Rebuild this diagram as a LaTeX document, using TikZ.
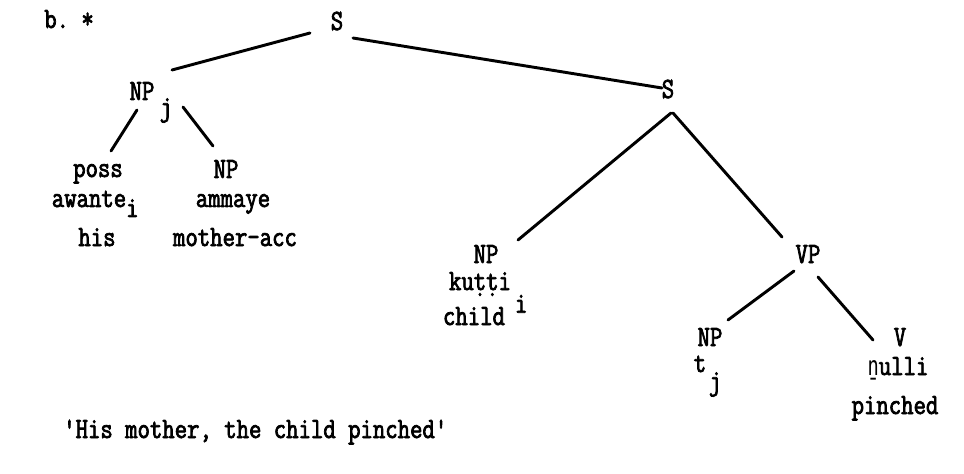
\documentclass[tikz,border=0pt]{standalone}
\usepackage{fontspec}
\newfontfamily\twfont{Latin Modern Mono}[FakeStretch=0.82,FakeBold=2.5]
\newfontfamily\dvmfont{DejaVu Sans Mono}[FakeStretch=0.7]
\begin{document}
\begin{tikzpicture}[x=0.75pt,y=-0.75pt,
  lbl/.style={font=\twfont\fontsize{22pt}{24pt}\selectfont, inner sep=0pt, anchor=base},
  edge/.style={line width=2.2pt, line cap=round}]
\useasboundingbox (0,0) rectangle (964,474);
\fill[white] (0,0) rectangle (964,474);
% labels
\node[lbl, anchor=base west] (ex) at (44,28) {b.\ *};
\node[lbl] (S) at (337,30) {S};
\node[lbl] (NPj) at (142,100) {NP\rlap{\hspace{4pt}\raisebox{-12pt}{j}}};
\node[lbl] (poss) at (98,177) {poss};
\node[lbl] (NPa) at (226,178) {NP};
\node[lbl] (awante) at (89,207) {awante\rlap{\raisebox{-7.5pt}{i}}};
\node[lbl] (ammaye) at (233,207) {ammaye};
\node[lbl] (his) at (97,246) {his};
\node[lbl] (mother) at (235,246) {mother-acc};
\node[lbl] (S2) at (668,98) {S};
\node[lbl] (NPk) at (486,263) {NP};
\node[lbl] (kutti) at (480,290) {kuṭṭi\rlap{\hspace{3pt}\raisebox{-17pt}{i}}};
\node[lbl] (child) at (474,325) {child};
\node[lbl] (VP) at (808,263) {VP};
\node[lbl] (NPt) at (710,346) {NP};
\node[lbl] (t) at (700,372) {t\rlap{\hspace{2pt}\raisebox{-13.5pt}{j}}};
\node[lbl] (V) at (900,346) {V};
\node[lbl] (pulli) at (898,375) {{\dvmfont\fontsize{20pt}{24pt}\selectfont ṉ}ulli};
\node[lbl] (pinched) at (895,414) {pinched};
\node[lbl, anchor=base west] (gloss) at (63,438) {'His mother, the child pinched'};
% branches
\draw[edge] ([shift={(-27,3)}]S.base) -- ([shift={(30,-30)}]NPj.base);
\draw[edge] ([shift={(16,8)}]S.base) -- ([shift={(-6,-10)}]S2.base);
\draw[edge] ([shift={(-5,10)}]NPj.base) -- ([shift={(13,-26)}]poss.base);
\draw[edge] ([shift={(41,7)}]NPj.base) -- ([shift={(-13,-32)}]NPa.base);
\draw[edge] ([shift={(3,15)}]S2.base) -- ([shift={(32,-23)}]NPk.base);
\draw[edge] ([shift={(5,15)}]S2.base) -- ([shift={(-26,-26)}]VP.base);
\draw[edge] ([shift={(-14,8)}]VP.base) -- ([shift={(18,-26)}]NPt.base);
\draw[edge] ([shift={(10,14)}]VP.base) -- ([shift={(-27,-6)}]V.base);
\end{tikzpicture}
\end{document}
